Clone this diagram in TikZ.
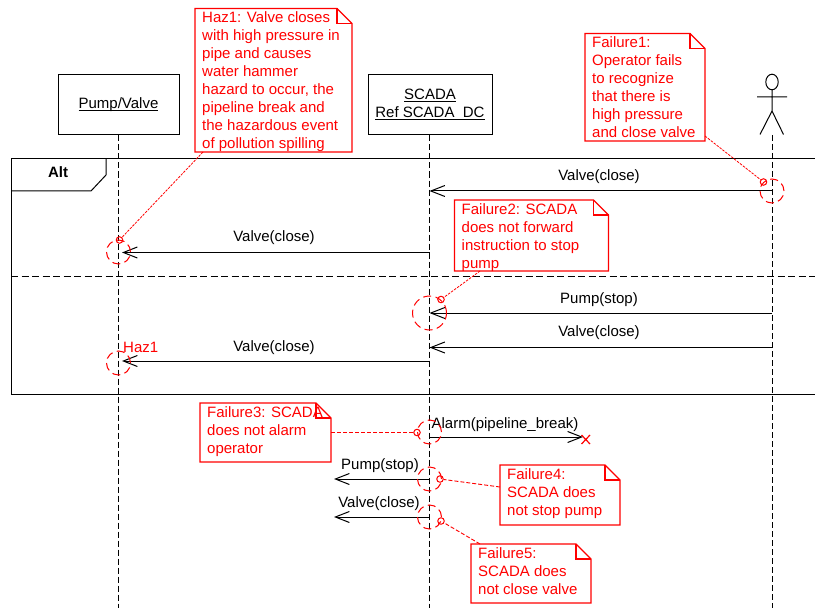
\documentclass[tikz,border=0pt]{standalone}
\usepackage{fontspec}
\setmainfont{Liberation Sans}
\usetikzlibrary{arrows.meta}
\definecolor{hazred}{RGB}{255,0,0}
\newcommand{\ulin}[1]{\setbox0\hbox{#1}\rlap{\rule[-1.7bp]{\wd0}{1bp}}\box0}
\tikzset{
  base text/.style={font=\fontsize{15bp}{18bp}\selectfont,inner sep=0pt},
  objbox/.style={draw=black,line width=1bp,fill=white,minimum width=121bp,minimum height=60.5bp,inner sep=0pt},
  objtext/.style={base text,align=center,anchor=base},
  lifeline/.style={draw=black,line width=1bp,dash pattern=on 6bp off 3bp},
  frameline/.style={draw=black,line width=1bp},
  separator/.style={draw=black,line width=1bp,dash pattern=on 7bp off 3.5bp},
  msg/.style={draw=black,line width=1bp,-{Straight Barb[length=14bp,width=11bp,line width=1bp]}},
  msglabel/.style={base text,text=black,anchor=base},
  noteline/.style={draw=hazred,line width=1.2bp,fill=white,line join=miter},
  notetext/.style={base text,text=hazred,align=left,anchor=north west},
  scope ring/.style={draw=hazred,line width=1bp,dash pattern=on 8bp off 4.5bp,circle,inner sep=0pt,fill=none},
  link ring/.style={draw=hazred,line width=1bp,circle,inner sep=0pt,minimum size=6.5bp,fill=none},
  linkline/.style={draw=hazred,line width=.8bp,dash pattern=on 2.5bp off 1.2bp},
  link dashed/.style={draw=hazred,line width=.9bp,dash pattern=on 4bp off 2bp},
}
% name, x1, y1, x2, y2, text
\newcommand{\failnote}[6]{%
  \draw[noteline] (#2,#3) -- (#4-15,#3) -- (#4,#3+15) -- (#4,#5) -- (#2,#5) -- cycle;
  \draw[noteline,fill=none] (#4-15,#3) -- (#4-15,#3+15) -- (#4,#3+15);
  \node[notetext] (#1) at (#2+7,#3+3) {#6};
}
\begin{document}
\begin{tikzpicture}[x=1bp,y=-1bp]
\useasboundingbox (0,0) rectangle (815,608);
\fill[white] (0,0) rectangle (815,608);

% frame
\coordinate (frameTL) at (11,158.5);
\coordinate (frameTR) at (815,158.5);
\coordinate (frameBL) at (11,394);
\coordinate (frameBR) at (815,394);
\coordinate (sepL) at (11,276);
\coordinate (sepR) at (815,276);
\draw[frameline] (frameTR) -- (frameTL) -- (frameBL) -- (frameBR);
\draw[frameline] (106,158.5) -- (106,175) -- (91,191) -- (11,191);
\node[base text,font=\fontsize{15bp}{18bp}\selectfont\bfseries,anchor=base] (altlabel) at (58,178) {Alt};
\draw[separator] (sepL) -- (sepR);

% participants
\node[objbox] (pump) at (118.5,104.75) {};
\node[objbox,minimum width=124bp] (scada) at (430,104.75) {};
\node[objtext] (pumplabel) at (118.5,109) {\ulin{Pump/Valve}};
\node[objtext] (scadalabel1) at (430,100) {\ulin{SCADA}};
\node[objtext] (scadalabel2) at (430,118) {\ulin{Ref SCADA\_DC}};
\coordinate (actorTop) at (772,135);
\draw[black,line width=1bp] (772,82) ellipse [x radius=6.2,y radius=7.8];
\draw[black,line width=1bp] (772,90) -- (772,111) (757,97) -- (787,97) (760,134.5) -- (772,111) -- (783.5,134.5);

% lifelines
\coordinate (pumpEnd) at (118.5,608);
\coordinate (scadaEnd) at (429.5,608);
\coordinate (actorEnd) at (772,608);
\draw[lifeline] (pump.south -| pumpEnd) -- (pumpEnd);
\draw[lifeline] (scada.south -| scadaEnd) -- (scadaEnd);
\draw[lifeline] (actorTop) -- (actorEnd);

% messages
\coordinate (a1) at (772,191); \coordinate (s1) at (429.5,191);
\coordinate (s2) at (429.5,252.5); \coordinate (p2) at (122,252.5);
\coordinate (a3) at (772,313); \coordinate (s3) at (429.5,313);
\coordinate (a4) at (772,347.5); \coordinate (s4) at (429.5,347.5);
\coordinate (s5) at (429.5,361); \coordinate (p5) at (122,361);
\coordinate (s6) at (430,437); \coordinate (x6) at (583,437);
\coordinate (s7) at (429.5,479); \coordinate (l7) at (334,479);
\coordinate (s8) at (429.5,517); \coordinate (l8) at (334,517);
\draw[msg] (a1) -- (s1);
\draw[msg] (s2) -- (p2);
\draw[msg] (a3) -- (s3);
\draw[msg] (a4) -- (s4);
\draw[msg] (s5) -- (p5);
\draw[msg] (s6) -- (x6);
\draw[msg] (s7) -- (l7);
\draw[msg] (s8) -- (l8);
\node[msglabel] (m1) at (599,181) {Valve(close)};
\node[msglabel] (m2) at (274,242) {Valve(close)};
\node[msglabel] (m3) at (599,303) {Pump(stop)};
\node[msglabel] (m4) at (599,336) {Valve(close)};
\node[msglabel] (m5) at (274,351) {Valve(close)};
\node[msglabel] (m6) at (505,428) {Alarm(pipeline\_break)};
\node[msglabel] (m7) at (380,469) {Pump(stop)};
\node[msglabel] (m8) at (379,507) {Valve(close)};
\draw[hazred,line width=1.2bp] (581.5,435) -- (590,444) (590,435) -- (581.5,444);

% rings
\node[scope ring,minimum size=24bp] (r1) at (118.5,252) {};
\node[scope ring,minimum size=24bp] (r2) at (772,191) {};
\node[scope ring,minimum size=34bp] (r3) at (429.5,313) {};
\node[scope ring,minimum size=24bp] (r4) at (118.5,363) {};
\node[scope ring,minimum size=24bp] (r5) at (429.5,432) {};
\node[scope ring,minimum size=24bp] (r6) at (429.5,479) {};
\node[scope ring,minimum size=24bp] (r7) at (429.5,517) {};
\node[link ring] (k1) at (119.5,240) {};
\node[link ring] (k2) at (763.5,182) {};
\node[link ring] (k3) at (441,299.5) {};
\node[link ring] (k5) at (417,432.5) {};
\node[link ring] (k6) at (440,479) {};
\node[link ring] (k7) at (441,521) {};

% notes
\failnote{haz}{195}{8.5}{352}{152}{Haz1: Valve closes\\with high pressure in\\pipe and causes\\water hammer\\hazard to occur, the\\pipeline break and\\the hazardous event\\of pollution spilling}
\failnote{f1}{585}{33.5}{705}{141}{Failure1:\\Operator fails\\to recognize\\that there is\\high pressure\\and close valve}
\failnote{f2}{454.5}{200}{608.5}{271}{Failure2: SCADA\\does not forward\\instruction to stop\\pump}
\failnote{f3}{200}{403}{331}{462}{Failure3: SCADA\\does not alarm\\operator}
\failnote{f4}{500}{465}{620}{525}{Failure4:\\SCADA does\\not stop pump}
\failnote{f5}{471}{544}{591}{603}{Failure5:\\SCADA does\\not close valve}

% note connectors
\coordinate (haze) at (203,152);
\coordinate (f1e) at (705,136);
\coordinate (f2e) at (480,271);
\coordinate (f3e) at (331,432.5);
\coordinate (f4e) at (500,487);
\coordinate (f5e) at (480,544);
\draw[linkline] (haze) -- (k1);
\draw[linkline] (f1e) -- (k2);
\draw[linkline] (f2e) -- (k3);
\draw[link dashed] (f3e) -- (k5);
\draw[link dashed] (f4e) -- (k6);
\draw[link dashed] (f5e) -- (k7);

\node[base text,text=hazred,anchor=west] (hazlabel) at (123,347) {Haz1};
\end{tikzpicture}
\end{document}
